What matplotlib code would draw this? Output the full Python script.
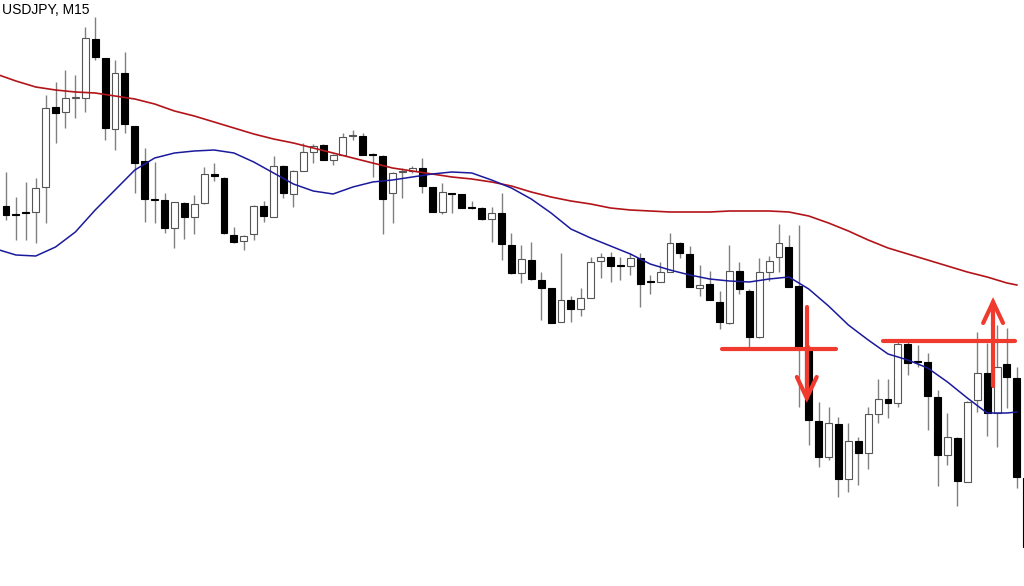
import matplotlib
matplotlib.use("Agg")
import matplotlib.pyplot as plt
import numpy as np

# USDJPY M15 candles, price in points (higher = up)
opens = [394, 386, 388, 388, 413, 493, 488, 502, 502, 561, 542, 471, 527, 474, 439, 401, 400, 372,
         397, 383, 397, 426, 422, 365, 359, 366, 394, 383, 434, 406, 429, 448, 455, 440, 445, 464,
         464, 446, 444, 407, 428, 429, 432, 413, 388, 407, 406, 393, 392, 381, 387, 355, 327, 340,
         320, 312, 278, 300, 291, 302, 339, 343, 335, 334, 342, 319, 318, 328, 357, 346, 312, 316,
         298, 277, 329, 309, 263, 328, 343, 353, 314, 250, 179, 143, 176, 121, 159, 147, 186, 201,
         197, 256, 239, 238, 203, 145, 162, 118, 200, 227, 187, 236, 222, 122]
highs = [428, 403, 418, 422, 505, 518, 530, 525, 573, 583, 542, 540, 548, 474, 452, 438, 407, 398,
         398, 405, 433, 437, 423, 373, 365, 395, 399, 444, 435, 430, 457, 456, 456, 446, 467, 470,
         467, 447, 445, 428, 432, 434, 442, 413, 417, 407, 406, 399, 393, 393, 407, 367, 355, 358,
         328, 312, 347, 304, 312, 343, 347, 348, 343, 347, 347, 325, 338, 367, 358, 354, 335, 329,
         309, 355, 338, 311, 342, 344, 376, 365, 375, 255, 198, 193, 183, 177, 163, 193, 221, 221,
         258, 258, 255, 247, 210, 187, 163, 199, 268, 257, 275, 272, 233, 122]
lows = [380, 360, 360, 357, 377, 457, 472, 482, 488, 540, 460, 450, 467, 407, 378, 377, 367, 352,
        361, 366, 396, 419, 366, 357, 350, 360, 378, 383, 402, 393, 429, 437, 440, 435, 445, 460,
        445, 423, 366, 377, 402, 427, 407, 388, 386, 387, 392, 391, 380, 358, 340, 326, 317, 320,
        280, 277, 278, 278, 284, 302, 322, 318, 320, 325, 293, 306, 318, 328, 342, 313, 304, 300,
        271, 276, 306, 253, 262, 319, 328, 313, 193, 155, 133, 140, 103, 108, 115, 131, 177, 182,
        193, 225, 233, 170, 114, 135, 94, 118, 188, 164, 153, 192, 112, 53]
closes = [385, 385, 387, 412, 492, 487, 502, 503, 562, 543, 472, 527, 476, 437, 401, 400, 372, 398,
          383, 396, 426, 424, 367, 358, 364, 394, 384, 434, 407, 429, 448, 454, 440, 445, 463, 465,
          445, 445, 401, 427, 429, 432, 414, 388, 408, 406, 392, 392, 381, 387, 356, 327, 341, 321,
          312, 277, 300, 291, 302, 338, 343, 334, 334, 342, 316, 318, 328, 357, 347, 313, 315, 300,
          278, 329, 311, 263, 328, 339, 357, 313, 253, 180, 143, 177, 121, 159, 147, 186, 201, 197,
          256, 237, 238, 204, 145, 163, 119, 198, 227, 187, 233, 223, 123, 53]

# moving averages read at every second bar
ma_bars = [-1, 1, 3, 5, 7, 9, 11, 13, 15, 17, 19, 21, 23, 25, 27, 29, 31, 33, 35, 37, 39, 41, 43,
           45, 47, 49, 51, 53, 55, 57, 59, 61, 63, 65, 67, 69, 71, 73, 75, 77, 79, 81, 83, 85, 87,
           89, 91, 93, 95, 97, 99, 101, 102]
ma_fast = [351, 345, 344, 353, 368, 390, 410, 430, 442, 447, 449, 450, 447, 438, 427, 416, 409, 406,
           413, 418, 420, 423, 426, 428, 427, 420, 412, 401, 387, 371, 362, 354, 346, 336, 330, 325,
           321, 319, 318, 321, 323, 311, 294, 275, 260, 246, 240, 232, 218, 202, 187, 187, 188]
ma_slow = [526, 519, 513, 510, 508, 507, 504, 501, 496, 489, 484, 478, 472, 466, 461, 457, 452, 447,
           442, 437, 432, 429, 426, 423, 421, 418, 414, 408, 403, 399, 396, 392, 390, 389, 388, 388,
           388, 389, 389, 389, 388, 384, 377, 369, 360, 352, 346, 340, 334, 328, 323, 317, 315]

# hand-drawn markup: level lines and arrows (bar index, price)
level_lines = [(72.2, 83.8, 251), (88.5, 101.8, 259)]
arrows = [(80.8, 293, 202), (99.6, 214, 298)]

fig = plt.figure(figsize=(10.24, 5.86), dpi=100)
ax = fig.add_axes([0, 0, 1, 1])
ax.set_xlim(-0.605, 102.72)
ax.set_ylim(14, 600)
ax.axis("off")

x = np.arange(len(opens))
o = np.array(opens, float)
c = np.array(closes, float)
up = c >= o

ax.vlines(x, lows, highs, color="#808080", lw=1.0, zorder=1)
bottom = np.minimum(o, c)
height = np.maximum(np.abs(c - o), 1.0)
ax.bar(x[up], height[up], 0.7, bottom=bottom[up], color="white",
       edgecolor="#555555", linewidth=0.8, zorder=2)
ax.bar(x[~up], height[~up], 0.7, bottom=bottom[~up], color="black",
       edgecolor="black", linewidth=0.8, zorder=2)

ax.plot(ma_bars, ma_slow, color="#b3141a", lw=1.2, zorder=3)
ax.plot(ma_bars, ma_fast, color="#1a1a9c", lw=1.1, zorder=3)

red = "#f03a2e"
for x0, x1, lvl in level_lines:
    ax.plot([x0, x1], [lvl, lvl], color=red, lw=3.0, solid_capstyle="round", zorder=4)
for ax_x, start, tip in arrows:
    d = np.sign(tip - start)
    ax.plot([ax_x, ax_x], [start, tip], color=red, lw=3.0, solid_capstyle="round", zorder=4)
    ax.plot([ax_x - 1.0, ax_x, ax_x + 1.0], [tip - d * 21, tip, tip - d * 21],
            color=red, lw=3.0, solid_capstyle="round", solid_joinstyle="miter", zorder=4)

fig.text(0.002, 0.995, "USDJPY, M15", ha="left", va="top", fontsize=10,
         family=["Liberation Sans", "DejaVu Sans"], color="black")

fig.savefig("out.png", dpi=100)
